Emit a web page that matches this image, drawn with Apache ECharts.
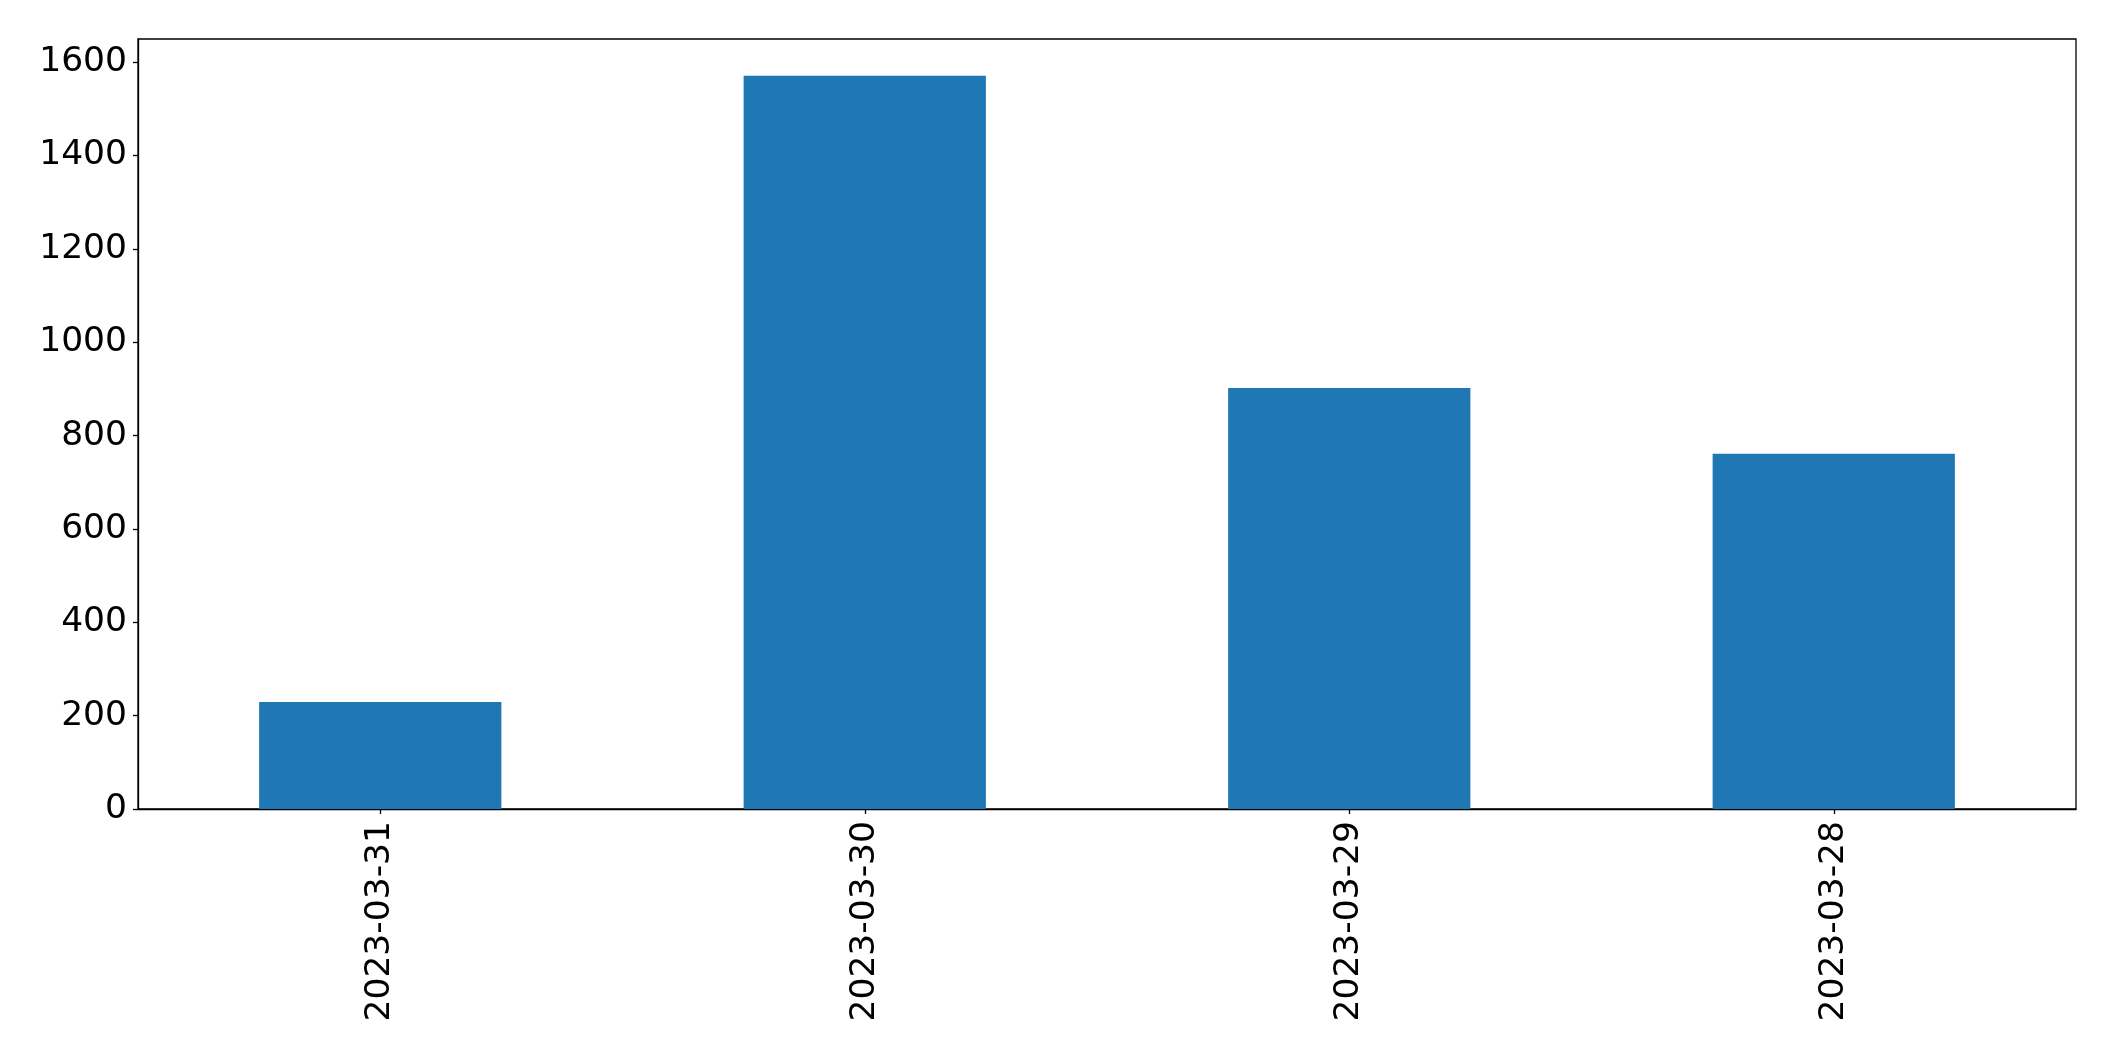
<!DOCTYPE html>
<html>
<head>
<meta charset="utf-8">
<script src="https://cdn.jsdelivr.net/npm/echarts@6/dist/echarts.min.js"></script>
<style>
html,body{margin:0;padding:0;background:#fff;}
#chart{width:2115px;height:1061px;}
</style>
</head>
<body>
<div id="chart"></div>
<script>
const categories = ['2023-03-31', '2023-03-30', '2023-03-29', '2023-03-28'];
const values = [229, 1571, 902, 761];
const yTicks = [0, 200, 400, 600, 800, 1000, 1200, 1400, 1600];
const yMax = 1649.5;

const chart = echarts.init(document.getElementById('chart'), null, {renderer: 'canvas'});
const font = 'DejaVu Sans';
chart.setOption({
  animation: false,
  backgroundColor: '#ffffff',
  grid: {
    left: 138, right: 39, top: 39, bottom: 252,
    show: true, borderColor: '#000000', borderWidth: 1.3, backgroundColor: 'transparent'
  },
  xAxis: {
    type: 'category',
    data: categories,
    boundaryGap: true,
    axisLine: {show: true, lineStyle: {color: '#000', width: 1.3}},
    axisTick: {show: true, alignWithLabel: true, length: 5, lineStyle: {color: '#000', width: 1.3}},
    axisLabel: {rotate: 90, margin: 12, color: '#000', fontFamily: font, fontSize: 34.5},
    splitLine: {show: false}
  },
  yAxis: {
    type: 'value',
    min: 0, max: yMax,
    axisLine: {show: true, lineStyle: {color: '#000', width: 1.3}},
    axisTick: {show: true, length: 5, customValues: yTicks, lineStyle: {color: '#000', width: 1.3}},
    axisLabel: {margin: 11, color: '#000', fontFamily: font, fontSize: 34.5, customValues: yTicks,
      padding: [6, 0, 0, 0], formatter: v => String(v)},
    splitLine: {show: false}
  },
  series: [{
    type: 'bar',
    data: values,
    barWidth: '50%',
    itemStyle: {color: '#1f77b4'}
  }]
});
</script>
</body>
</html>
